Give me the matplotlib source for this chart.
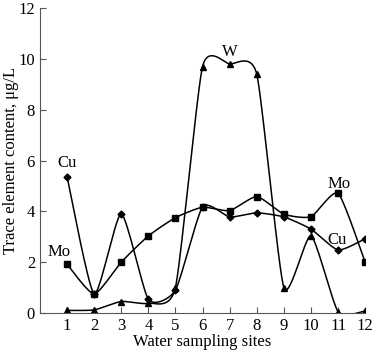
import numpy as np
import matplotlib.pyplot as plt

plt.rcParams['font.family'] = ['Liberation Serif', 'DejaVu Serif']

sites = [1, 2, 3, 4, 5, 6, 7, 8, 9, 10, 11, 12]
cu = [5.37, 0.75, 3.9, 0.54, 0.9, 4.17, 3.78, 3.94, 3.78, 3.3, 2.48, 2.92]
mo = [1.92, 0.75, 2.0, 3.03, 3.75, 4.16, 4.03, 4.58, 3.89, 3.79, 4.71, 2.0]
w = [0.1, 0.12, 0.45, 0.38, 1.0, 9.7, 9.8, 9.4, 1.0, 3.04, 0.05, 0.08]


def smooth(x, y, c=0.3, n=30):
    # cardinal spline through the points, like the original smoothed lines
    x = np.asarray(x, float)
    y = np.asarray(y, float)
    px = np.concatenate([[x[0]], x, [x[-1]]])
    py = np.concatenate([[y[0]], y, [y[-1]]])
    t = np.linspace(0, 1, n)
    h00 = 2 * t**3 - 3 * t**2 + 1
    h10 = t**3 - 2 * t**2 + t
    h01 = -2 * t**3 + 3 * t**2
    h11 = t**3 - t**2
    xs, ys = [], []
    for i in range(1, len(px) - 2):
        for p, out in ((px, xs), (py, ys)):
            m0 = c * (p[i + 1] - p[i - 1])
            m1 = c * (p[i + 2] - p[i])
            out.append(h00 * p[i] + h10 * m0 + h01 * p[i + 1] + h11 * m1)
    return np.concatenate(xs), np.concatenate(ys)


fig = plt.figure(figsize=(3.73, 3.54), dpi=100)
ax = fig.add_axes([0.107, 0.116, 0.872, 0.861])

for vals, mk, ms in ((w, '^', 5), (mo, 's', 5), (cu, 'D', 3.5)):
    sx, sy = smooth(sites, vals)
    ax.plot(sx, sy, color='black', lw=1.1)
    ax.plot(sites, vals, linestyle='none', marker=mk, ms=ms, color='black')

ax.text(1, 5.75, 'Cu', ha='center', fontsize=12)
ax.text(0.7, 2.25, 'Mo', ha='center', fontsize=12)
ax.text(7, 10.1, 'W', ha='center', fontsize=12)
ax.text(11.05, 4.9, 'Mo', ha='center', fontsize=12)
ax.text(10.95, 2.7, 'Cu', ha='center', fontsize=12)

ax.set_xlim(0, 12)
ax.set_ylim(0, 12)
ax.set_xticks(sites)
ax.set_yticks([0, 2, 4, 6, 8, 10, 12])
ax.tick_params(direction='in', labelsize=12, length=4, color='#555555')
ax.spines['top'].set_visible(False)
ax.spines['right'].set_visible(False)
ax.spines['left'].set_color('#555555')
ax.spines['bottom'].set_color('#555555')
ax.set_xlabel('Water sampling sites', fontsize=12, labelpad=0)
ax.set_ylabel('Trace element content, μg/L', fontsize=12)
ax.yaxis.set_label_coords(-0.065, 0.5)

plt.savefig('out.png', dpi=100)
